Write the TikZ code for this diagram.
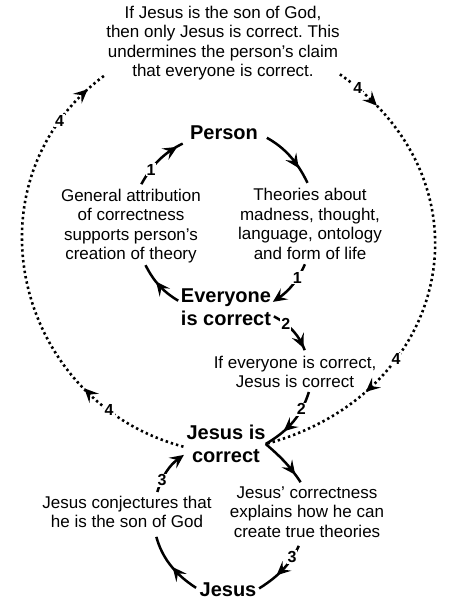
\documentclass[tikz,border=0pt]{standalone}
\usepackage{fontspec}
\setmainfont{Liberation Sans}
\usetikzlibrary{arrows.meta,decorations.markings}
\frenchspacing

\begin{document}
\begin{tikzpicture}[x=1pt,y=1pt,
  txt/.style={align=center,inner sep=0pt,font=\fontsize{17}{19.5}\selectfont},
  big/.style={align=center,inner sep=0pt,font=\fontsize{20}{23}\selectfont\bfseries},
  num/.style={fill=white,inner sep=1pt,font=\fontsize{16}{16}\selectfont\bfseries},
  hd/.tip={Stealth[length=14pt,width=13pt,inset=5.5pt]},
  link/.style={line width=2.5pt},
  dots/.style={line width=2.6pt,dash pattern=on 2.4pt off 3pt},
  arrat/.style={postaction={decorate,decoration={markings,mark=at position #1 with {\arrow{hd}}}}},
  arrtwo/.style 2 args={postaction={decorate,decoration={markings,
    mark=at position #1 with {\arrow{hd}},mark=at position #2 with {\arrow{hd}}}}}]
\useasboundingbox (0,0) rectangle (450,601);

% statements
\node[txt] (claim) at (223,558) {If Jesus is the son of God,\\then only Jesus is correct. This\\undermines the person’s claim\\that everyone is correct.};
\node[big] (person) at (224,468) {Person};
\node[txt] (support) at (131,375) {General attribution\\of correctness\\supports person’s\\creation of theory};
\node[txt] (theories) at (310,377) {Theories about\\madness, thought,\\language, ontology\\and form of life};
\node[big] (everyone) at (226,294) {Everyone\\is correct};
\node[txt] (ifall) at (295,229) {If everyone is correct,\\Jesus is correct};
\node[big] (jcorrect) at (226,157) {Jesus is\\correct};
\node[txt] (conject) at (127,89) {Jesus conjectures that\\he is the son of God};
\node[txt] (explain) at (307,89) {Jesus’ correctness\\explains how he can\\create true theories};
\node[big] (jesus) at (228,11) {Jesus};

% loop 1
\draw[link,arrat=0.7,shorten <=10pt,shorten >=6pt] (person.east) to[bend left=18] (theories.north);
\draw[link,-{hd},shorten <=5pt,shorten >=2pt] (theories.-95) to[bend left=16] node[num,pos=0.35] (n1b) {1} (everyone.5);
\draw[link,arrat=0.6,shorten <=3pt,shorten >=2pt] (everyone.174) to[bend left=16] (support.-70);
\draw[link,arrat=0.8,shorten <=5pt,shorten >=8pt] (support.78) to[bend left=18] node[num,pos=0.3] (n1a) {1} (person.south west);

% loop 2
\draw[link,arrat=0.85,shorten <=3pt,shorten >=6pt] (everyone.-10) to[bend left=21] node[num,pos=0.3] (n2a) {2} (ifall.54);
\draw[link,arrat=0.7,shorten <=4pt] (ifall.-47) to[bend left=21] node[num,pos=0.3] (n2b) {2} (jcorrect.east);

% loop 3
\draw[link,arrat=0.75,shorten >=5pt] (jcorrect.east) to[bend left=8] (explain.98);
\draw[link,arrat=0.65,shorten <=9pt,shorten >=3pt] (explain.-100) to[bend left=17] node[num,pos=0.3] (n3a) {3} (jesus.east);
\draw[link,arrat=0.45,shorten <=4pt,shorten >=9pt] (jesus.west) to[bend left=21] (conject.-31);
\draw[link,-{hd},shorten <=4pt,shorten >=3pt] (conject.29) to[bend left=19] node[num,pos=0.3] (n3b) {3} (jcorrect.-167);

% loop 4 (dotted)
\draw[dots,arrtwo={0.25}{0.95},shorten <=3pt] (jcorrect.-175) to[out=165,in=216,looseness=1.2]
  node[num,pos=0.17] (n4a) {4} node[num,pos=0.87] (n4b) {4} (claim.-165);
\draw[dots,arrtwo={0.1}{0.765}] (claim.-15) to[out=-35,in=15,looseness=1.3]
  node[num,pos=0.04] (n4c) {4} node[num,pos=0.69] (n4d) {4} (jcorrect.east);
\end{tikzpicture}
\end{document}
